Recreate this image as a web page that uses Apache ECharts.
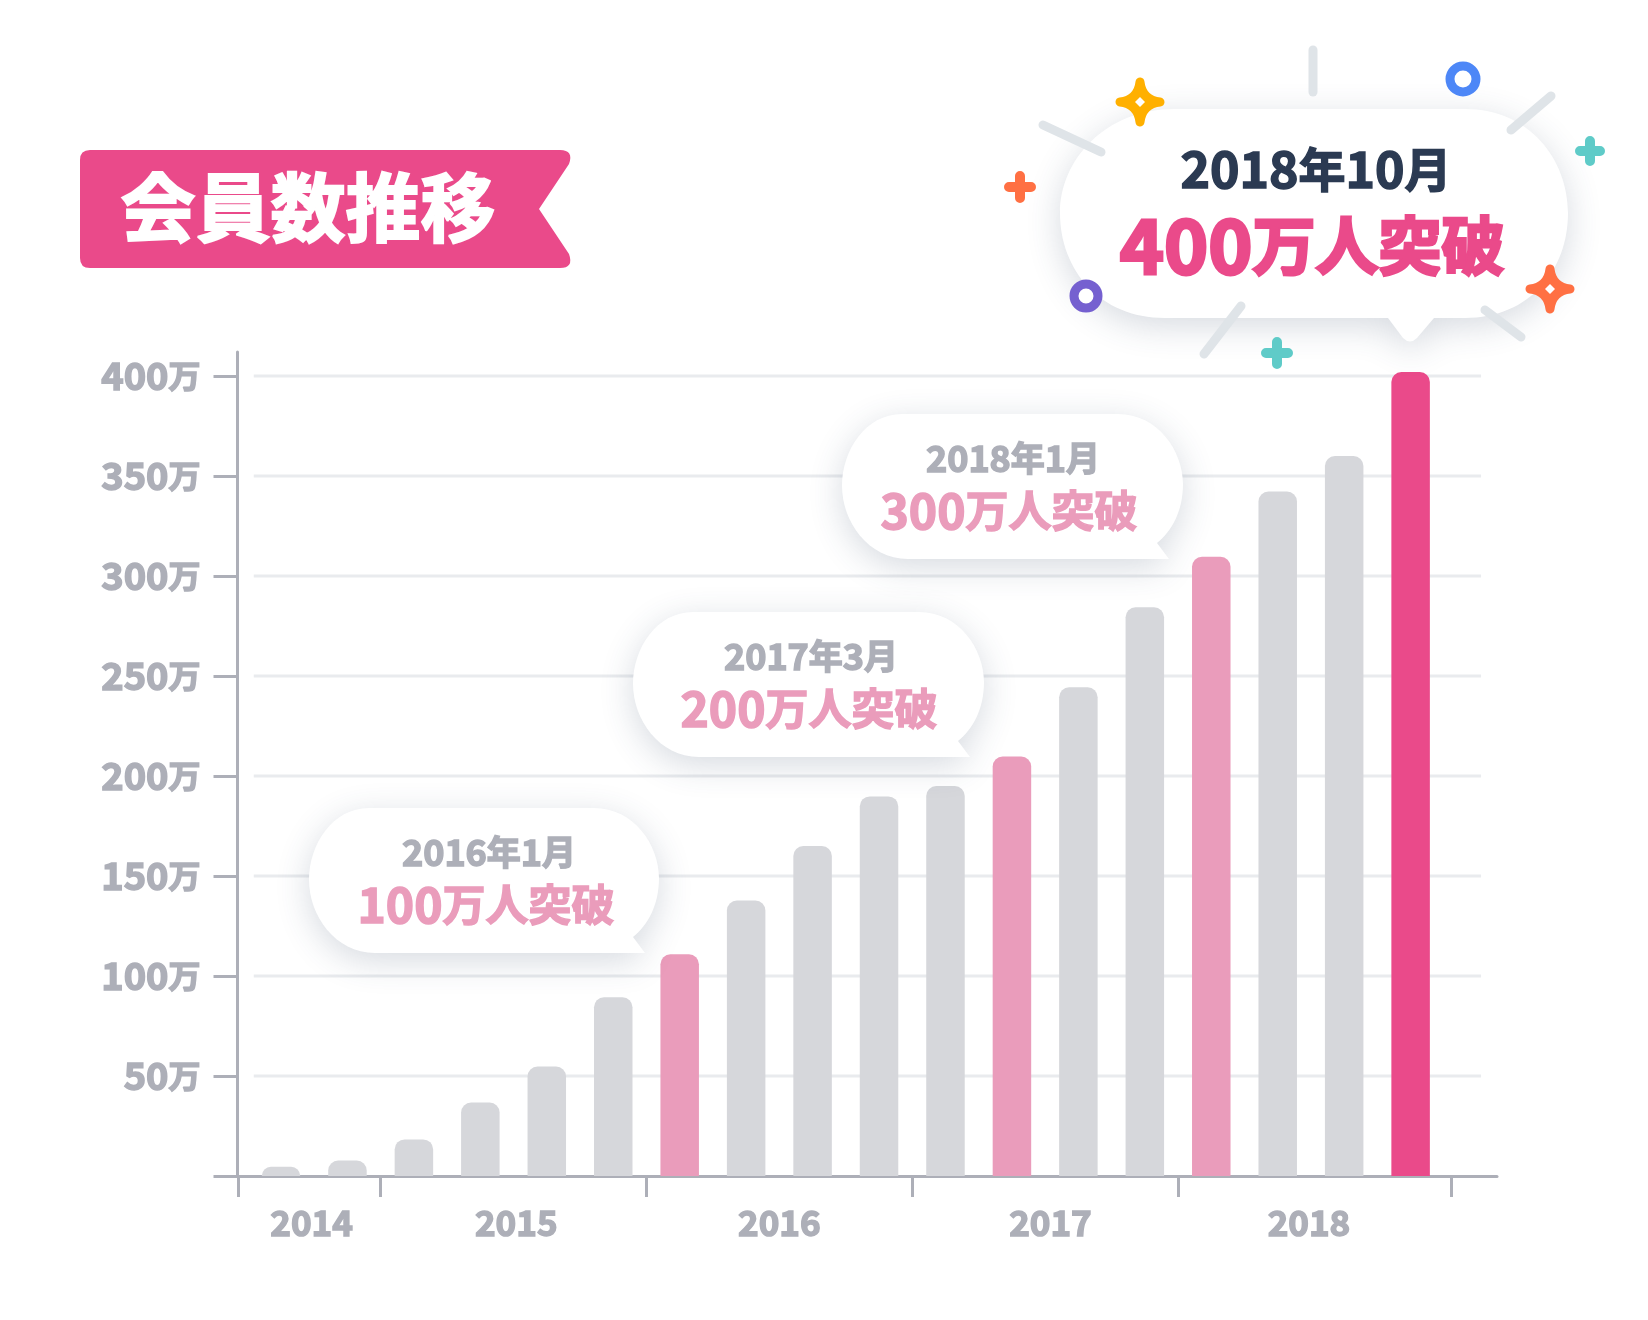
<!DOCTYPE html>
<html>
<head>
<meta charset="utf-8">
<title>会員数推移</title>
<style>
html,body{margin:0;padding:0;background:#fff;}
#chart{width:1648px;height:1320px;}
</style>
<script src="https://cdn.jsdelivr.net/npm/echarts@6/dist/echarts.min.js"></script>
</head>
<body>
<div id="chart"></div>
<script>
// 会員数 (unit: 万人), one bar per quarter from 2014 Q3 to 2018 Q4
var periods = ['2014Q3','2014Q4','2015Q1','2015Q2','2015Q3','2015Q4','2016Q1','2016Q2','2016Q3','2016Q4','2017Q1','2017Q2','2017Q3','2017Q4','2018Q1','2018Q2','2018Q3','2018Q4'];
var members = [4.6, 7.7, 18.3, 36.7, 54.7, 89.4, 110.9, 137.7, 165, 189.8, 195, 209.7, 244.4, 284.4, 309.6, 342.2, 360, 402];
var milestoneBars = [6, 11, 14];
var latestBar = 17;

var years = ['2014','2015','2016','2017','2018'];
var yearCenters = [0.46, 3.54, 7.5, 11.58, 15.47];
var yearBounds = [-0.65, 1.5, 5.5, 9.5, 13.5, 17.61];
var yTicks = [0, 50, 100, 150, 200, 250, 300, 350, 400];
var gridValues = [50, 100, 150, 200, 250, 300, 350, 400];

var titleText = '会員数推移';
var calloutDateParts = [['2016','年','1','月'], ['2017','年','3','月'], ['2018','年','1','月']];
var calloutNums = ['100', '200', '300'];
var calloutRest = '万人突破';

var FONT = '"Noto Sans CJK JP","Noto Sans",sans-serif';
var GREY = '#adafb8';
var PINK = '#ea4a8a';
var SOFT_PINK = '#ea9cbb';
var BAR_GREY = '#d6d7db';
var NAVY = '#2b3a52';
var LINE_GREY = '#dfe4e8';
var ORANGE = '#ff7043';
var TEAL = '#5fcbc8';

var chart = echarts.init(document.getElementById('chart'));

var barData = [];
for (var i = 0; i < members.length; i++) {
    var color = BAR_GREY;
    if (milestoneBars.indexOf(i) >= 0) color = SOFT_PINK;
    if (i == latestBar) color = PINK;
    barData.push({name: periods[i], value: [i, members[i]], itemStyle: {color: color}});
}

function calloutPath(x, y, w) {
    // bubble with the tail at lower right, w x 145
    var p = function (a, b) { return (x + a) + ',' + (y + b); };
    return 'M' + p(60, 0) + ' L' + p(w - 65, 0) +
        ' C' + p(w - 25, 0) + ' ' + p(w, 37) + ' ' + p(w, 70) +
        ' C' + p(w, 97) + ' ' + p(w - 11, 117) + ' ' + p(w - 26, 129) +
        ' L' + p(w - 14, 145) + ' L' + p(66, 145) +
        ' C' + p(26, 145) + ' ' + p(0, 107) + ' ' + p(0, 72) +
        ' C' + p(0, 37) + ' ' + p(23, 0) + ' ' + p(60, 0) + ' Z';
}

function bubble(d) {
    return {
        type: 'path',
        shape: {pathData: d},
        style: {fill: '#fff', shadowBlur: 34, shadowColor: 'rgba(50,70,100,0.2)', shadowOffsetY: 8}
    };
}

function label(cx, cy, text, rich) {
    return {
        type: 'text',
        x: cx,
        y: cy,
        style: {text: text, rich: rich, align: 'center', verticalAlign: 'middle', font: 'bold 40px ' + FONT}
    };
}

function part(size, color, weight, border) {
    return {fontSize: size, fontFamily: FONT, fontWeight: weight || 'bold', fill: color, stroke: color, lineWidth: border || 1.5};
}

function dash(x1, y1, x2, y2) {
    return {
        type: 'line',
        shape: {x1: x1, y1: y1, x2: x2, y2: y2},
        style: {stroke: LINE_GREY, lineWidth: 9, lineCap: 'round'}
    };
}

function ring(cx, cy, r, color) {
    return {type: 'circle', shape: {cx: cx, cy: cy, r: r}, style: {fill: '#fff', stroke: color, lineWidth: 9}};
}

function plus(cx, cy, h, color) {
    var d = 'M' + (cx - h) + ',' + cy + ' L' + (cx + h) + ',' + cy + ' M' + cx + ',' + (cy - h) + ' L' + cx + ',' + (cy + h);
    return {type: 'path', shape: {pathData: d}, style: {fill: 'none', stroke: color, lineWidth: 10, lineCap: 'round'}};
}

function star(cx, cy, h, color) {
    var s = 2;
    var d = 'M' + cx + ',' + (cy - h) +
        ' Q' + (cx + s) + ',' + (cy - s) + ' ' + (cx + h) + ',' + cy +
        ' Q' + (cx + s) + ',' + (cy + s) + ' ' + cx + ',' + (cy + h) +
        ' Q' + (cx - s) + ',' + (cy + s) + ' ' + (cx - h) + ',' + cy +
        ' Q' + (cx - s) + ',' + (cy - s) + ' ' + cx + ',' + (cy - h) + ' Z';
    var hole = 'M' + cx + ',' + (cy - 5) + ' L' + (cx + 5) + ',' + cy + ' L' + cx + ',' + (cy + 5) + ' L' + (cx - 5) + ',' + cy + ' Z';
    return [
        {type: 'path', shape: {pathData: d}, style: {fill: color, stroke: color, lineWidth: 9, lineJoin: 'round'}},
        {type: 'path', shape: {pathData: hole}, style: {fill: '#fff'}}
    ];
}

function drawDecor() {
    var kids = [];

    // title ribbon
    kids.push({
        type: 'path',
        shape: {pathData: 'M90,150 L560,150 Q574,150 569,164 L539,209 L569,254 Q574,268 560,268 L90,268 Q80,268 80,258 L80,160 Q80,150 90,150 Z'},
        style: {fill: PINK}
    });
    kids.push(label(308, 207, '{t|' + titleText + '}', {t: part(75, '#fff', 'bold', 2)}));

    // smaller callouts: left, top, width, centre of date text, centre of total text
    var boxes = [[309, 808, 350, 489, 486], [633, 612, 351, 811, 809], [842, 414, 341, 1013, 1009]];
    for (var i = 0; i < boxes.length; i++) {
        var b = boxes[i];
        kids.push(bubble(calloutPath(b[0], b[1], b[2])));
        var dp = calloutDateParts[i];
        kids.push(label(b[3], b[1] + 44,
            '{n|' + dp[0] + '}{c|' + dp[1] + '}{n|' + dp[2] + '}{c|' + dp[3] + '}',
            {n: part(36, GREY), c: part(34, GREY)}));
        kids.push(label(b[4], b[1] + 97,
            '{n|' + calloutNums[i] + '}{c|' + calloutRest + '}',
            {n: part(48, SOFT_PINK), c: part(43, SOFT_PINK)}));
    }

    // big callout
    kids.push(bubble('M1175,109 L1465,109 C1530,109 1568,160 1568,213 C1568,270 1530,318 1465,318 L1434,318 L1417,338 Q1410,345 1403,338 L1388,318 L1165,318 C1100,318 1060,270 1060,213 C1060,160 1105,109 1175,109 Z'));
    kids.push(label(1316, 169, '{n|2018}{c|年}{n|10}{c|月}', {n: part(50, NAVY), c: part(47, NAVY)}));
    kids.push(label(1312, 245, '{n|400}{c|' + calloutRest + '}', {n: part(75, PINK, 'bold', 3), c: part(63, PINK, 'bold', 3)}));

    // sparkles round the big callout
    kids.push(dash(1313, 50, 1313, 92));
    kids.push(dash(1043, 125, 1101, 152));
    kids.push(dash(1241, 306, 1204, 354));
    kids.push(dash(1551, 96, 1511, 130));
    kids.push(dash(1485, 310, 1521, 337));
    kids.push(ring(1463, 79, 13, '#4d87f7'));
    kids.push(ring(1086, 296, 12, '#7560d0'));
    kids.push(plus(1020, 187, 11, ORANGE));
    kids.push(plus(1277, 353, 11, TEAL));
    kids.push(plus(1590, 151, 10, TEAL));
    kids = kids.concat(star(1140, 102, 20, '#ffb000'));
    kids = kids.concat(star(1550, 289, 20, ORANGE));

    return {type: 'group', children: kids};
}

var option = {
    animation: false,
    backgroundColor: '#fff',
    grid: {left: 237.5, right: 151, top: 352, bottom: 144},
    xAxis: {
        type: 'value',
        min: -0.6547,
        max: 18.3,
        splitLine: {show: false},
        axisLine: {show: true, lineStyle: {color: GREY, width: 3}},
        axisTick: {show: true, customValues: yearBounds, length: 21, lineStyle: {color: GREY, width: 3}},
        axisLabel: {
            customValues: yearCenters,
            margin: 29,
            color: GREY,
            fontFamily: FONT,
            fontWeight: 'bold',
            fontSize: 35,
            textBorderColor: GREY,
            textBorderWidth: 1.5,
            formatter: function (v) { return years[yearCenters.indexOf(v)]; }
        }
    },
    yAxis: {
        type: 'value',
        min: 0,
        max: 412,
        splitLine: {show: false},
        axisLine: {show: true, onZero: false, lineStyle: {color: GREY, width: 3}},
        axisTick: {show: true, customValues: yTicks, length: 24, lineStyle: {color: GREY, width: 3}},
        axisLabel: {
            customValues: gridValues,
            margin: 37,
            formatter: function (v) { return '{n|' + v + '}{c|万}'; },
            rich: {
                n: {fontFamily: FONT, fontWeight: 'bold', fontSize: 38, color: GREY, textBorderColor: GREY, textBorderWidth: 1.5},
                c: {fontFamily: FONT, fontWeight: 'bold', fontSize: 32, color: GREY, textBorderColor: GREY, textBorderWidth: 1.5}
            }
        }
    },
    series: [
        {
            type: 'custom',
            z: 1,
            silent: true,
            data: gridValues,
            encode: {x: -1, y: 0},
            renderItem: function (params, api) {
                var a = api.coord([-0.41, api.value(0)]);
                var b = api.coord([18.06, api.value(0)]);
                return {
                    type: 'line',
                    shape: {x1: a[0], y1: a[1], x2: b[0], y2: b[1]},
                    style: {stroke: '#e9ebee', lineWidth: 3}
                };
            }
        },
        {
            type: 'bar',
            z: 2,
            barWidth: 38.5,
            itemStyle: {borderRadius: [10, 10, 0, 0]},
            data: barData
        },
        {
            type: 'custom',
            coordinateSystem: 'none',
            z: 5,
            silent: true,
            data: [0],
            renderItem: drawDecor
        }
    ]
};

chart.setOption(option);
window.onresize = chart.resize;
</script>
</body>
</html>
